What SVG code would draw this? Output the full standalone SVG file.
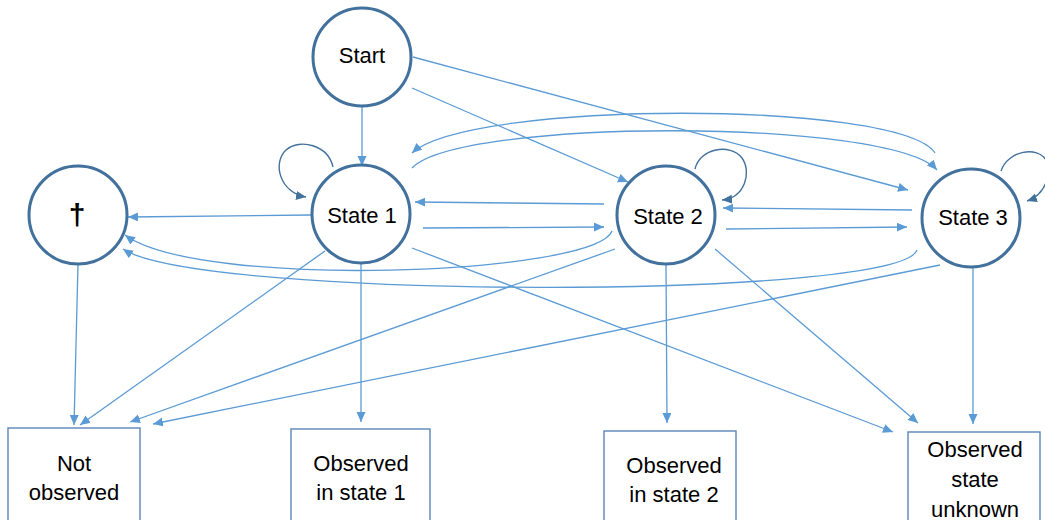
<svg xmlns="http://www.w3.org/2000/svg" width="1045" height="520" viewBox="0 0 1045 520">
<defs>
<marker id="arr" markerUnits="userSpaceOnUse" markerWidth="11" markerHeight="10" refX="10" refY="4.5" orient="auto">
<path d="M0,0 L10,4.5 L0,9 z" fill="#5b9bd5"/>
</marker>
<marker id="arrd" markerUnits="userSpaceOnUse" markerWidth="11" markerHeight="10" refX="10" refY="4.5" orient="auto">
<path d="M0,0 L10,4.5 L0,9 z" fill="#41719c"/>
</marker>
</defs>
<style>
.st{fill:#fff;stroke:#41719c;stroke-width:3}
.bx{fill:#fff;stroke:#5a86b8;stroke-width:1.4}
.ln{fill:none;stroke:#5b9bd5;stroke-width:1.3;marker-end:url(#arr)}
.lp{fill:none;stroke:#41719c;stroke-width:1.4;marker-end:url(#arrd)}
.t{font-family:"Liberation Sans",Arial,sans-serif;font-size:22px;fill:#000;text-anchor:middle}
</style>
<rect width="1045" height="520" fill="#fff"/>
<g id="connectors">
<line class="ln" x1="362" y1="107" x2="362" y2="166"/>
<line class="ln" x1="412" y1="88" x2="628" y2="182"/>
<line class="ln" x1="413" y1="57" x2="908" y2="190"/>
<path class="lp" d="M333,167 C328,145 300,138 286,150 C272,163 280,193 306,197"/>
<path class="lp" d="M695,169 C700,148 730,143 742,158 C752,172 745,198 722,200"/>
<path class="lp" d="M1001,171 C1008,150 1038,146 1046,160 C1052,175 1045,195 1027,201"/>
<line class="ln" x1="311" y1="215" x2="128" y2="217"/>
<line class="ln" x1="604" y1="204" x2="415" y2="202"/>
<line class="ln" x1="423" y1="228" x2="604" y2="227"/>
<line class="ln" x1="912" y1="210" x2="723" y2="208"/>
<line class="ln" x1="726" y1="229" x2="907" y2="227"/>
<path class="ln" d="M935,153 C900,100 470,100 412,153"/>
<path class="ln" d="M412,168 C460,118 890,118 937,170"/>
<path class="ln" d="M612,231 C595,275 200,290 125,235"/>
<path class="ln" d="M917,250 C900,300 200,300 123,249"/>
<line class="ln" x1="78" y1="264" x2="74" y2="425"/>
<line class="ln" x1="325" y1="251" x2="80" y2="425"/>
<line class="ln" x1="615" y1="249" x2="130" y2="422"/>
<line class="ln" x1="940" y1="265" x2="153" y2="424"/>
<line class="ln" x1="361" y1="263" x2="361" y2="422"/>
<line class="ln" x1="412" y1="248" x2="893" y2="432"/>
<line class="ln" x1="666" y1="264" x2="667" y2="423"/>
<line class="ln" x1="715" y1="249" x2="918" y2="423"/>
<line class="ln" x1="973" y1="267" x2="973" y2="424"/>
</g>
<g id="start"><circle class="st" cx="362" cy="57" r="49"/><text class="t" x="362" y="63">Start</text></g>
<g id="state1"><circle class="st" cx="361" cy="214" r="49"/><text class="t" x="362" y="223">State 1</text></g>
<g id="state2"><circle class="st" cx="666" cy="215" r="49"/><text class="t" x="668" y="224">State 2</text></g>
<g id="state3"><circle class="st" cx="971" cy="218" r="49"/><text class="t" x="973" y="225">State 3</text></g>
<g id="dead"><circle class="st" cx="78" cy="215" r="49"/><text class="t" x="77" y="225" style="font-size:30px;font-weight:bold">†</text></g>
<g id="notobserved"><rect class="bx" x="8" y="428" width="132" height="100"/><text class="t" x="74" y="471">Not</text><text class="t" x="74" y="500">observed</text></g>
<g id="obs1"><rect class="bx" x="291" y="429" width="139" height="100"/><text class="t" x="361" y="471">Observed</text><text class="t" x="361" y="500">in state 1</text></g>
<g id="obs2"><rect class="bx" x="604" y="431" width="132" height="100"/><text class="t" x="674" y="473">Observed</text><text class="t" x="674" y="502">in state 2</text></g>
<g id="obsunknown"><rect class="bx" x="908" y="432" width="132" height="100"/><text class="t" x="975" y="457">Observed</text><text class="t" x="975" y="487">state</text><text class="t" x="975" y="517">unknown</text></g>
</svg>
